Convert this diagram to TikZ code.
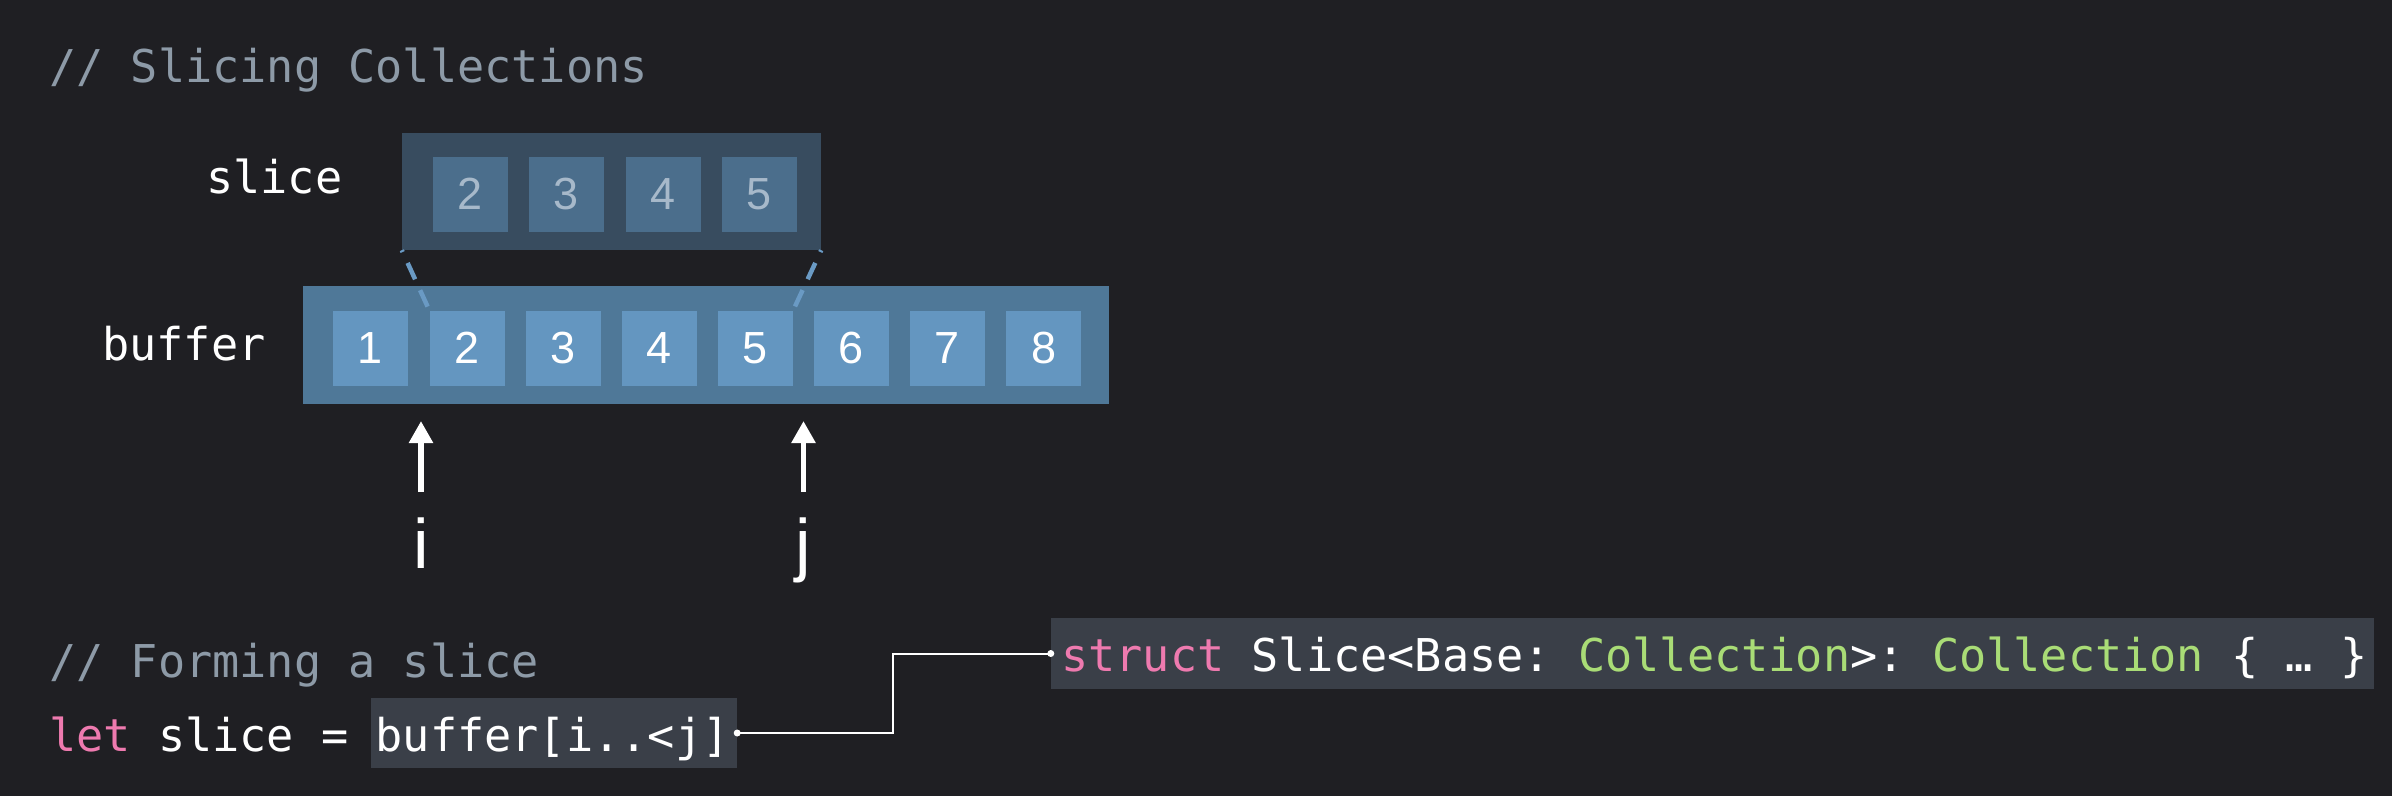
\documentclass[tikz,border=0pt]{standalone}
\usepackage{fontspec}
\setmainfont{Liberation Sans}
\setmonofont{DejaVu Sans Mono}
\usetikzlibrary{arrows.meta}
\definecolor{bgc}{HTML}{1F1F23}
\definecolor{cmt}{HTML}{8D9AA7}
\definecolor{kw}{HTML}{EE7AAF}
\definecolor{ty}{HTML}{A9DC76}
\definecolor{hlc}{HTML}{3A3F48}
\definecolor{bufo}{HTML}{4F7898}
\definecolor{bufc}{HTML}{6496C0}
\definecolor{slo}{HTML}{384C5F}
\definecolor{slc}{HTML}{4B6E8C}
\definecolor{sltx}{HTML}{A7B9CA}
\definecolor{dashc}{HTML}{6A9AC4}
\begin{document}
\begin{tikzpicture}[x=1pt, y=-1pt,
  code/.style={text=white, font=\ttfamily\fontsize{45.2}{54}\selectfont, inner sep=0pt, anchor=base west},
  comment/.style={code, text=cmt},
  hlbox/.style={fill=hlc, inner sep=0pt},
  cell/.style={fill=bufc, text=white, inner sep=0pt, minimum width=75pt, minimum height=75pt, font=\fontsize{45}{54}\selectfont},
  scell/.style={cell, fill=slc, text=sltx},
  idx/.style={text=white, inner sep=0pt, anchor=base, font=\fontsize{70}{80}\selectfont},
  cut/.style={draw=dashc, line width=4.5pt, dash pattern=on 18pt off 12pt, dash phase=16pt},
  ptr/.style={draw=white, line width=5.5pt, -{Triangle[width=23pt,length=22pt]}},
  link/.style={draw=white, line width=2pt},
]
\fill[bgc] (0,0) rectangle (2392,796);
\useasboundingbox (0,0) rectangle (2392,796);
% slicing collections
\node[comment] (title) at (49,82){// Slicing Collections};
\node[code] (slicelbl) at (206,193){slice};
\node[code] (buflbl) at (102,360){buffer};
\node[fill=bufo, inner sep=0pt, minimum width=806pt, minimum height=118pt] (buf) at (706,345){};
\node[fill=slo, inner sep=0pt, minimum width=419pt, minimum height=117pt] (slice) at (611.5,191.5){};
\node[cell] (b1) at (370.5,348){1};
\node[cell] (b2) at (467,348){2};
\node[cell] (b3) at (563.5,348){3};
\node[cell] (b4) at (659.5,348){4};
\node[cell] (b5) at (755.5,348){5};
\node[cell] (b6) at (851.5,348){6};
\node[cell] (b7) at (947.5,348){7};
\node[cell] (b8) at (1043.5,348){8};
\node[scell] (s2) at (470,194){2};
\node[scell] (s3) at (566.5,194){3};
\node[scell] (s4) at (663.5,194){4};
\node[scell] (s5) at (759.5,194){5};
\draw[cut](slice.south west) -- (b2.north west);
\draw[cut](slice.south east) -- (b5.north east);
% indices
\coordinate (itail) at (421,492);
\coordinate (itip) at (421,421);
\coordinate (jtail) at (803.5,492);
\coordinate (jtip) at (803.5,421);
\draw[ptr](itail) -- (itip);
\draw[ptr](jtail) -- (jtip);
\node[idx] (ilbl) at (421,568){i};
\node[idx] (jlbl) at (803.5,568){j};
% forming a slice
\node[comment] (sub) at (49,677){// Forming a slice};
\node[hlbox, minimum width=366pt, minimum height=70pt] (rng) at (554,733){};
\node[hlbox, minimum width=1323pt, minimum height=71pt] (decl) at (1712.5,653.5){};
\node[code] (letline) at (49,751.5){{\color{kw}let} slice = buffer[i..<j]};
\node[code] (decltext) at (1061,671){{\color{kw}struct} Slice<Base: {\color{ty}Collection}>: {\color{ty}Collection} \{ … \}};
\draw[link](rng.east) -- ++(156,0) |- (decl.west);
\fill[white] (rng.east) circle (3.5pt);
\fill[white] (decl.west) circle (3.5pt);
\end{tikzpicture}
\end{document}
